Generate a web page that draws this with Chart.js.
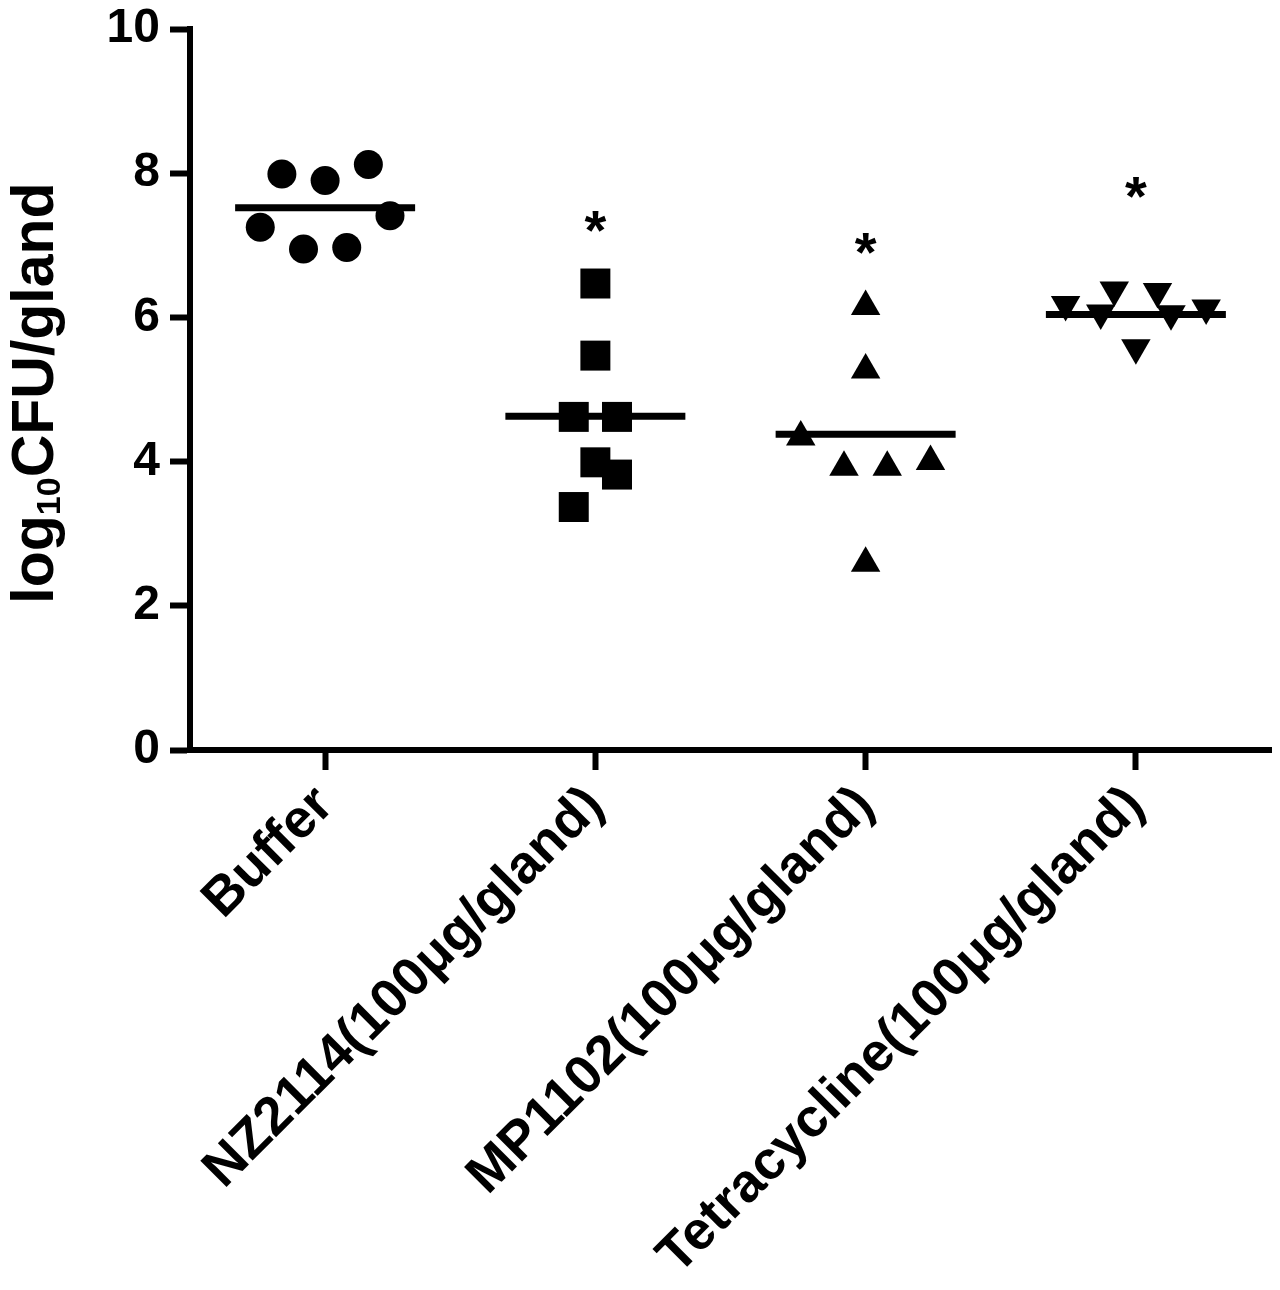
<!DOCTYPE html>
<html>
<head>
<meta charset="utf-8">
<script src="https://cdn.jsdelivr.net/npm/chart.js@4.4.0/dist/chart.umd.min.js"></script>
<style>
  html, body { margin: 0; padding: 0; background: #fff; }
  #wrap { width: 1280px; height: 1290px; }
</style>
</head>
<body>
<div id="wrap"><canvas id="cfuChart" width="1280" height="1290"></canvas></div>
<script>
// groups on the x axis
const groups = ["Buffer", "NZ2114(100\u03bcg/gland)", "MP1102(100\u03bcg/gland)", "Tetracycline(100\u03bcg/gland)"];

// log10 CFU per gland, one value per animal
const bufferVals = [7.99, 7.90, 8.12, 7.25, 7.41, 6.95, 6.97];
const nz2114Vals = [6.47, 5.47, 4.62, 4.62, 3.99, 3.82, 3.37];
const mp1102Vals = [6.15, 5.27, 4.34, 3.92, 3.92, 4.00, 2.59];
const tetraVals  = [6.18, 6.38, 6.06, 6.36, 6.05, 6.13, 5.58];

// horizontal scatter offset of each point inside its group
const bufferJitter = [-0.16, 0, 0.16, -0.24, 0.24, -0.08, 0.08];
const nz2114Jitter = [0, 0, -0.08, 0.08, 0, 0.08, -0.08];
const mp1102Jitter = [0, 0, -0.24, -0.08, 0.08, 0.24, 0];
const tetraJitter  = [-0.26, -0.08, -0.13, 0.08, 0.13, 0.26, 0];

// group means (horizontal bars) and where the significance stars sit
const groupMeans = [7.52, 4.63, 4.38, 6.04];
const starY = [null, 7.31, 7.0, 7.78];

const yTicks = [0, 2, 4, 6, 8, 10];

const FONT = "'Liberation Sans', Arial, Helvetica, sans-serif";
const meanHalf = 0.333;

function points(vals, jitter, g) {
    return vals.map((v, i) => ({ x: g + 1 + jitter[i], y: v }));
}

// mean bars: two points per group, null in between so they don't join
const meanLine = [];
groupMeans.forEach((m, i) => {
    meanLine.push({ x: i + 1 - meanHalf, y: m });
    meanLine.push({ x: i + 1 + meanHalf, y: m });
    meanLine.push({ x: i + 1.5, y: null });
});

const markerBase = {
    type: "scatter",
    backgroundColor: "#000",
    borderColor: "#000",
    borderWidth: 0,
    pointHoverRadius: 0,
};

// y axis title with a real subscript
const yTitlePlugin = {
    id: "yTitle",
    afterDraw(chart) {
        const ctx = chart.ctx;
        const big = "bold 59px " + FONT;
        const small = "bold 34px " + FONT;
        const parts = [["log", big, 0], ["10", small, 7], ["CFU/gland", big, 0]];
        ctx.save();
        let total = 0;
        parts.forEach(p => { ctx.font = p[1]; total += ctx.measureText(p[0]).width; });
        ctx.translate(53, 393);
        ctx.rotate(-Math.PI / 2);
        ctx.fillStyle = "#000";
        ctx.textBaseline = "alphabetic";
        ctx.textAlign = "left";
        let x = -total / 2;
        parts.forEach(p => {
            ctx.font = p[1];
            ctx.fillText(p[0], x, p[2]);
            x += ctx.measureText(p[0]).width;
        });
        ctx.restore();
    }
};

// significance asterisks above the treated groups
const starPlugin = {
    id: "stars",
    afterDatasetsDraw(chart) {
        const ctx = chart.ctx;
        const xs = chart.scales.x, ys = chart.scales.y;
        const fs = 56;
        ctx.save();
        ctx.font = "bold " + fs + "px " + FONT;
        ctx.fillStyle = "#000";
        ctx.textAlign = "center";
        ctx.textBaseline = "alphabetic";
        starY.forEach((v, i) => {
            if (v === null) return;
            const px = xs.getPixelForValue(i + 1);
            const py = ys.getPixelForValue(v);
            ctx.fillText("*", px, py + 0.464 * fs);
        });
        ctx.restore();
    }
};

const config = {
    type: "scatter",
    data: {
        datasets: [
            Object.assign({}, markerBase, { label: groups[0], data: points(bufferVals, bufferJitter, 0), pointStyle: "circle", pointRadius: 14.5 }),
            Object.assign({}, markerBase, { label: groups[1], data: points(nz2114Vals, nz2114Jitter, 1), pointStyle: "rect", pointRadius: 21.2 }),
            Object.assign({}, markerBase, { label: groups[2], data: points(mp1102Vals, mp1102Jitter, 2), pointStyle: "triangle", pointRadius: 17 }),
            Object.assign({}, markerBase, { label: groups[3], data: points(tetraVals, tetraJitter, 3), pointStyle: "triangle", rotation: 180, pointRadius: 17 }),
            {
                type: "line",
                label: "mean",
                data: meanLine,
                borderColor: "#000",
                borderWidth: 7,
                borderCapStyle: "butt",
                pointRadius: 0,
                spanGaps: false,
                fill: false,
            },
        ],
    },
    options: {
        responsive: false,
        animation: false,
        devicePixelRatio: 1,
        events: [],
        layout: { autoPadding: false, padding: { top: 29, right: 9, left: 0, bottom: 0 } },
        plugins: {
            legend: { display: false },
            tooltip: { enabled: false },
            title: { display: false },
        },
        scales: {
            x: {
                type: "linear",
                min: 0.5,
                max: 4.5,
                afterBuildTicks: (axis) => { axis.ticks = groups.map((g, i) => ({ value: i + 1 })); },
                afterFit: (axis) => {
                    axis.height = 540;
                    axis.paddingLeft = 0;
                    axis.paddingRight = 0;
                },
                border: { display: true, color: "#000", width: 6 },
                grid: { drawOnChartArea: false, drawTicks: true, tickLength: 20, tickWidth: 6, tickColor: "#000", color: "#000" },
                ticks: {
                    autoSkip: false,
                    minRotation: 45,
                    maxRotation: 45,
                    padding: 4,
                    color: "#000",
                    font: { family: FONT, size: 54, weight: "bold" },
                    callback: (v) => groups[v - 1] || "",
                },
            },
            y: {
                min: 0,
                max: 10,
                afterBuildTicks: (axis) => { axis.ticks = yTicks.map(v => ({ value: v })); },
                afterFit: (axis) => {
                    axis.width = 190;
                    axis.paddingTop = 0;
                    axis.paddingBottom = 0;
                },
                border: { display: true, color: "#000", width: 6 },
                grid: { drawOnChartArea: false, drawTicks: true, tickLength: 20, tickWidth: 6, tickColor: "#000", color: "#000" },
                ticks: {
                    padding: 10,
                    color: "#000",
                    font: { family: FONT, size: 48, weight: "bold" },
                },
                title: { display: false },
            },
        },
    },
    plugins: [yTitlePlugin, starPlugin],
};

const ctx = document.getElementById("cfuChart").getContext("2d");
new Chart(ctx, config);
</script>
</body>
</html>
